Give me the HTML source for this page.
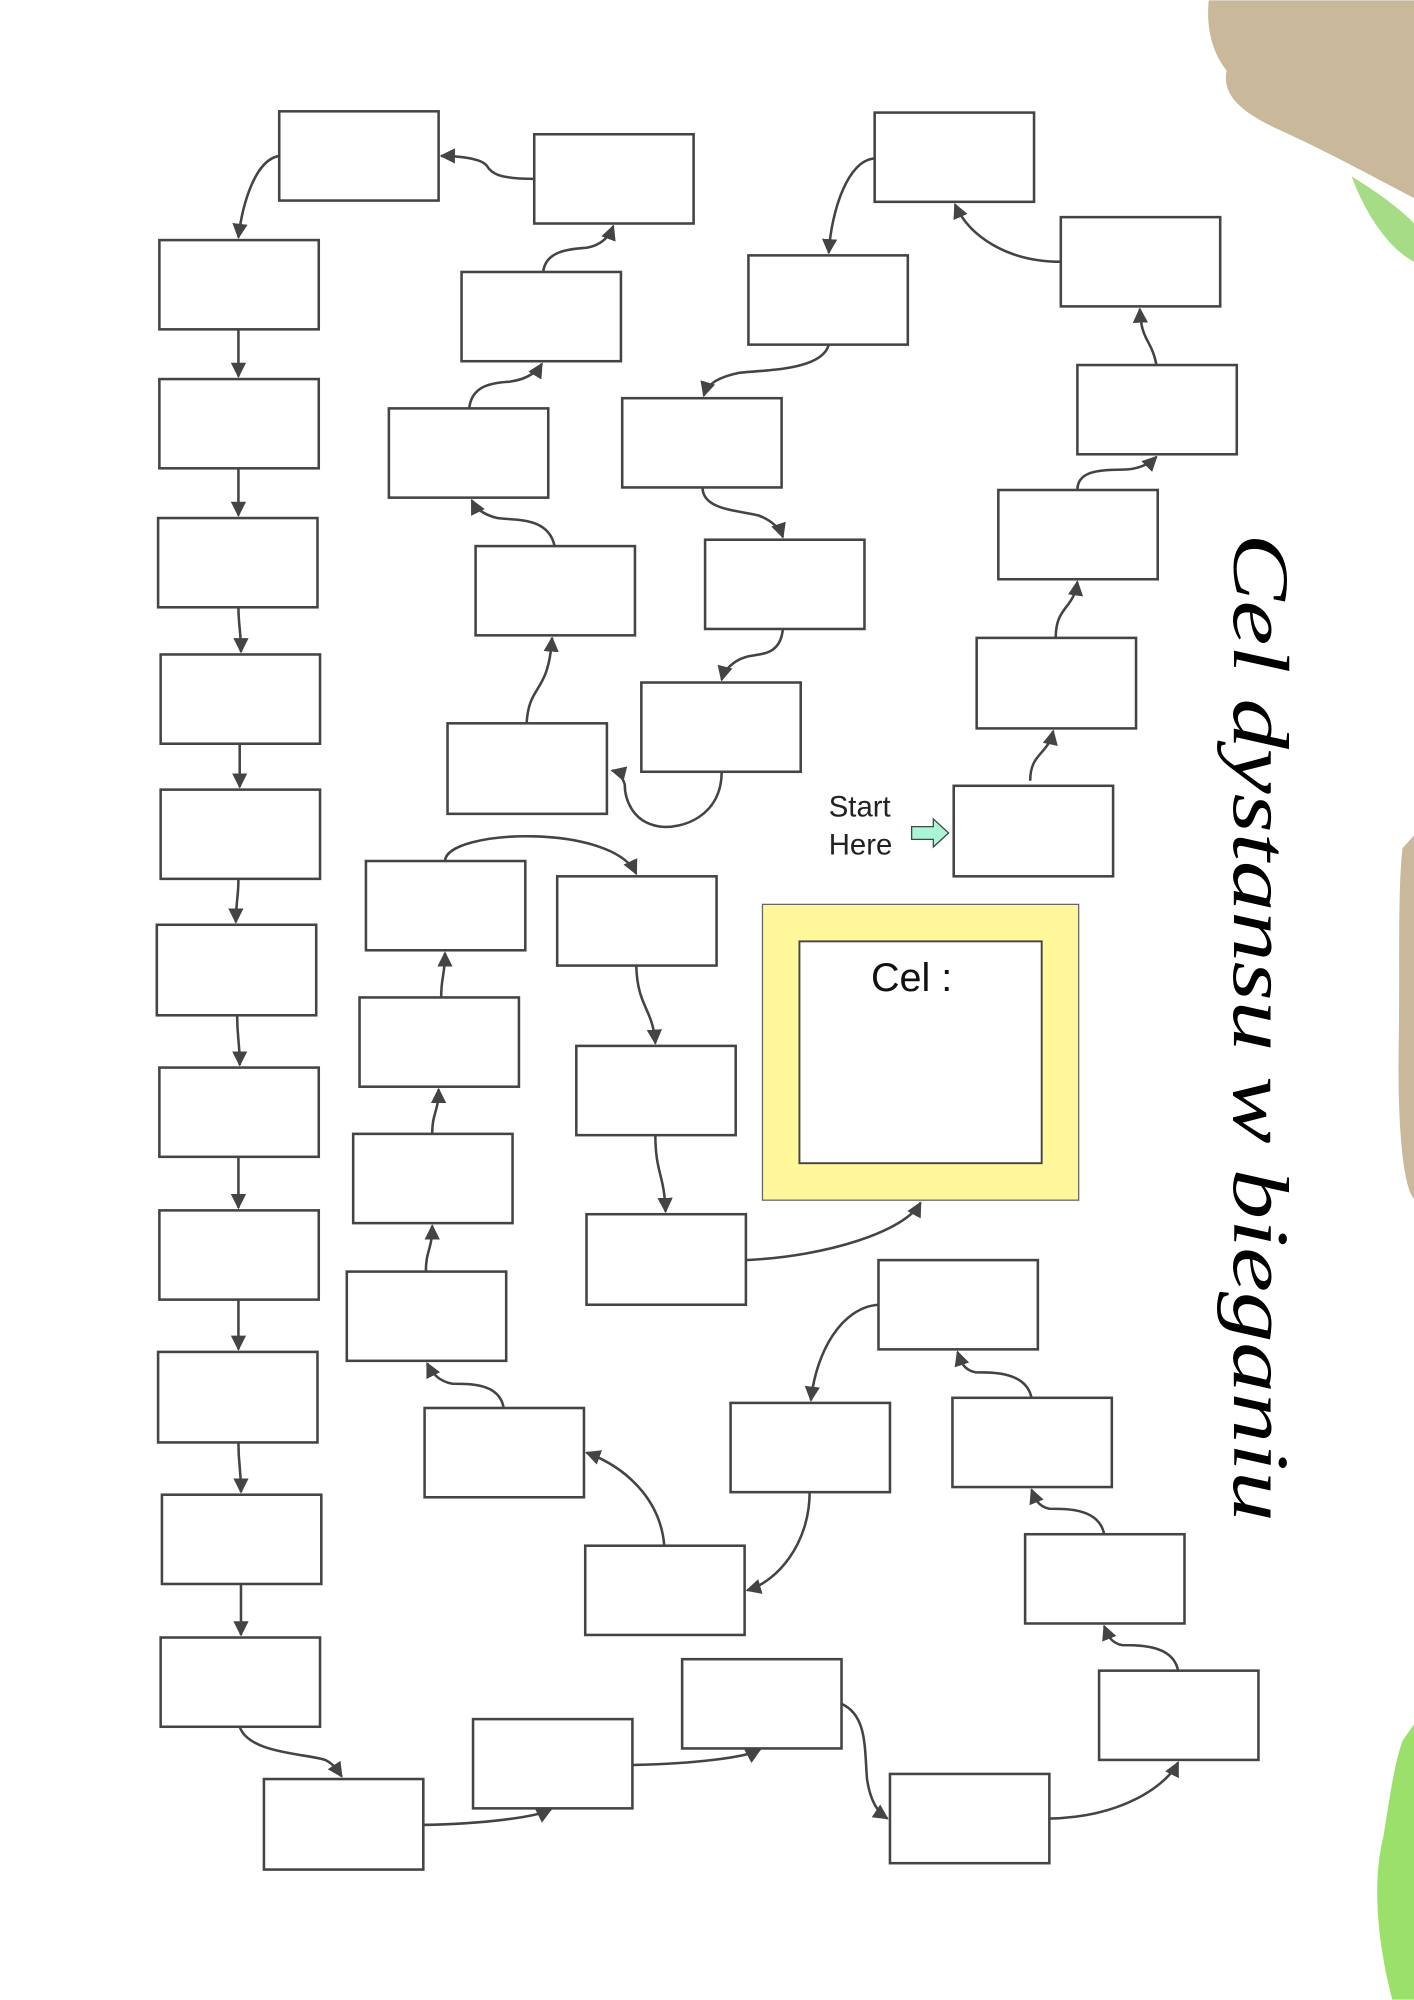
<!DOCTYPE html>
<html><head><meta charset="utf-8"><style>
html,body{margin:0;padding:0;background:#fff}
svg{display:block}
</style></head><body>
<svg width="1414" height="2000" viewBox="0 0 1109 1568" xmlns="http://www.w3.org/2000/svg">
<defs>
<marker id="a" viewBox="0 0 10 10" refX="9" refY="5" markerWidth="6" markerHeight="6" orient="auto" markerUnits="strokeWidth">
<path d="M0,0 L10,5 L0,10 z" fill="#444"/></marker>
</defs>
<path d="M948,0 L1109,0 L1109,155 C1080,140 1040,118 1000,100 C975,88 958,75 962,55 C950,40 946,20 948,0 z" fill="#c9b89a"/>
<path d="M1060,138 C1080,150 1100,165 1109,175 L1109,205 C1090,195 1072,170 1060,138 z" fill="#a6dc86"/>
<path d="M1100,665 L1109,655 L1109,940 C1100,930 1096,880 1097,820 C1098,760 1096,700 1100,665 z" fill="#c9b89a"/>
<path d="M1100,1365 L1109,1352 L1109,1568 L1092,1568 C1082,1530 1075,1480 1085,1440 C1090,1410 1093,1385 1100,1365 z" fill="#9be06a"/>
<g fill="#fff" stroke="#444" stroke-width="2">
<rect x="219" y="87" width="125" height="70"/>
<rect x="125" y="188" width="125" height="70"/>
<rect x="125" y="297" width="125" height="70"/>
<rect x="124" y="406" width="125" height="70"/>
<rect x="126" y="513" width="125" height="70"/>
<rect x="126" y="619" width="125" height="70"/>
<rect x="123" y="725" width="125" height="71"/>
<rect x="125" y="837" width="125" height="70"/>
<rect x="125" y="949" width="125" height="70"/>
<rect x="124" y="1060" width="125" height="71"/>
<rect x="127" y="1172" width="125" height="70"/>
<rect x="126" y="1284" width="125" height="70"/>
<rect x="207" y="1395" width="125" height="71"/>
<rect x="371" y="1348" width="125" height="70"/>
<rect x="535" y="1301" width="125" height="70"/>
<rect x="698" y="1391" width="125" height="70"/>
<rect x="862" y="1310" width="125" height="70"/>
<rect x="804" y="1203" width="125" height="70"/>
<rect x="747" y="1096" width="125" height="70"/>
<rect x="689" y="988" width="125" height="70"/>
<rect x="573" y="1100" width="125" height="70"/>
<rect x="459" y="1212" width="125" height="70"/>
<rect x="333" y="1104" width="125" height="70"/>
<rect x="272" y="997" width="125" height="70"/>
<rect x="277" y="889" width="125" height="70"/>
<rect x="282" y="782" width="125" height="70"/>
<rect x="287" y="675" width="125" height="70"/>
<rect x="437" y="687" width="125" height="70"/>
<rect x="452" y="820" width="125" height="70"/>
<rect x="460" y="952" width="125" height="71"/>
<rect x="419" y="105" width="125" height="70"/>
<rect x="362" y="213" width="125" height="70"/>
<rect x="305" y="320" width="125" height="70"/>
<rect x="373" y="428" width="125" height="70"/>
<rect x="351" y="567" width="125" height="71"/>
<rect x="503" y="535" width="125" height="70"/>
<rect x="553" y="423" width="125" height="70"/>
<rect x="488" y="312" width="125" height="70"/>
<rect x="587" y="200" width="125" height="70"/>
<rect x="686" y="88" width="125" height="70"/>
<rect x="832" y="170" width="125" height="70"/>
<rect x="845" y="286" width="125" height="70"/>
<rect x="783" y="384" width="125" height="70"/>
<rect x="766" y="500" width="125" height="71"/>
<rect x="748" y="616" width="125" height="71"/>
</g>
<rect x="598" y="709" width="248" height="232" fill="#fff79a" stroke="#666" stroke-width="1"/>
<rect x="627" y="738" width="190" height="174" fill="#fff" stroke="#444" stroke-width="1.5"/>
<text x="715" y="777" font-family="Liberation Sans, sans-serif" font-size="31" text-anchor="middle" fill="#111">Cel :</text>
<text x="650" y="640" font-family="Liberation Sans, sans-serif" font-size="23" fill="#222">Start</text>
<text x="650" y="670" font-family="Liberation Sans, sans-serif" font-size="23" fill="#222">Here</text>
<path d="M715,648 L732,648 L732,642 L744,653 L732,664 L732,658 L715,658 z" fill="#a8f5d8" stroke="#444" stroke-width="1"/>
<g fill="none" stroke="#444" stroke-width="2" marker-end="url(#a)">
<path d="M419,140 C390,140 385,135 382,130 C378,124 360,122 346,122"/>
<path d="M219,122 C200,125 190,160 187,186"/>
<path d="M187,258 L187,295"/>
<path d="M187,367 L187,404"/>
<path d="M187,476 C187,490 189,495 189,511"/>
<path d="M188,583 L188,617"/>
<path d="M187,689 C187,705 185,705 185,723"/>
<path d="M186,796 C186,815 188,815 188,835"/>
<path d="M187,907 L187,947"/>
<path d="M187,1019 L187,1058"/>
<path d="M187,1131 C187,1150 189,1150 189,1170"/>
<path d="M189,1242 L189,1282"/>
<path d="M188,1354 C195,1375 240,1375 255,1380 C263,1384 266,1390 268,1393"/>
<path d="M332,1431 C380,1430 420,1425 432,1419"/>
<path d="M496,1384 C545,1383 585,1378 596,1372"/>
<path d="M660,1336 C680,1345 678,1370 680,1395 C683,1415 690,1422 696,1426"/>
<path d="M823,1426 C880,1425 915,1400 924,1382"/>
<path d="M924,1310 C920,1290 895,1290 880,1290 C870,1288 868,1280 866,1275"/>
<path d="M866,1203 C862,1183 838,1183 823,1183 C813,1181 811,1173 809,1168"/>
<path d="M809,1096 C805,1076 780,1076 765,1076 C755,1074 753,1066 751,1060"/>
<path d="M689,1023 C660,1025 640,1060 636,1098"/>
<path d="M635,1170 C635,1210 610,1240 586,1247"/>
<path d="M521,1212 C518,1175 490,1150 460,1139"/>
<path d="M395,1104 C392,1085 370,1085 355,1085 C343,1083 338,1075 335,1069"/>
<path d="M334,997 C334,980 339,980 339,961"/>
<path d="M339,889 C339,872 344,872 344,854"/>
<path d="M346,782 C346,765 349,765 349,747"/>
<path d="M349,675 C350,650 480,645 499,685"/>
<path d="M499,757 C500,790 512,790 514,818"/>
<path d="M514,890 C514,920 521,920 522,950"/>
<path d="M585,988 C650,985 710,965 722,943"/>
<path d="M808,612 C808,590 822,592 826,573"/>
<path d="M828,500 C828,475 842,478 845,456"/>
<path d="M845,384 C845,370 860,368 880,368 C895,368 903,362 907,358"/>
<path d="M907,286 C903,265 895,268 894,242"/>
<path d="M832,205 C790,205 760,185 749,160"/>
<path d="M686,124 C665,125 652,165 650,198"/>
<path d="M650,270 C645,290 600,290 580,292 C565,295 555,300 552,310"/>
<path d="M551,382 C551,400 580,400 595,404 C606,408 612,415 614,421"/>
<path d="M614,493 C612,515 595,512 585,515 C575,518 568,525 566,533"/>
<path d="M566,605 C566,640 535,650 518,648 C495,645 490,625 490,615 C488,608 484,605 480,604"/>
<path d="M413,567 C415,535 430,545 433,500"/>
<path d="M435,428 C430,405 405,408 390,406 C378,403 373,398 370,392"/>
<path d="M368,320 C370,300 390,300 400,299 C415,297 422,290 425,285"/>
<path d="M426,213 C428,195 450,195 460,194 C472,192 478,185 481,177"/>
</g>
<text transform="translate(968,418) rotate(90)" font-family="Liberation Serif, serif" font-style="italic" font-size="62" fill="#000" textLength="775" lengthAdjust="spacingAndGlyphs">Cel dystansu w bieganiu</text>
</svg>
</body></html>
